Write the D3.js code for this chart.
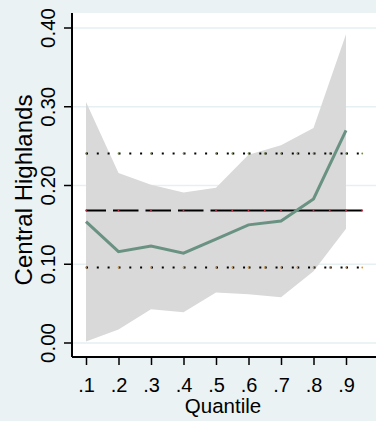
<!DOCTYPE html>
<html>
<head>
<meta charset="utf-8">
<script src="https://cdn.jsdelivr.net/npm/d3@7"></script>
<style>
body { margin: 0; background: #eaf2f3; }
svg { display: block; font-family: "Liberation Sans", Arial, sans-serif; }
</style>
</head>
<body>
<div id="chart"></div>
<script>
// quantile regression estimates
var quantiles = [0.1, 0.2, 0.3, 0.4, 0.5, 0.6, 0.7, 0.8, 0.9];
var qrEst  = [0.154, 0.116, 0.123, 0.114, 0.132, 0.150, 0.155, 0.183, 0.270];
var qrLow  = [0.002, 0.017, 0.043, 0.039, 0.064, 0.062, 0.058, 0.091, 0.145];
var qrHigh = [0.306, 0.216, 0.201, 0.191, 0.197, 0.239, 0.251, 0.273, 0.392];

// OLS estimate and its confidence bounds (constant over quantiles)
var olsX = [0.1, 0.2, 0.3, 0.4, 0.5, 0.55, 0.6, 0.65, 0.7, 0.75, 0.8, 0.85, 0.9, 0.95];
var olsEst = 0.169;
var olsLow = 0.097;
var olsHigh = 0.241;

var yTicks = [0, 0.1, 0.2, 0.3, 0.4];
var xTicks = quantiles;
var yTitle = "Central Highlands";
var xTitle = "Quantile";

var W = 376, H = 421;
var plot = {left: 72, top: 13, right: 376, bottom: 357};

var x = d3.scaleLinear().domain([0.1, 0.9]).range([86, 346]);
var y = d3.scaleLinear().domain([0, 0.4]).range([343, 28]);

var svg = d3.select("#chart").append("svg")
    .attr("width", W)
    .attr("height", H);

svg.append("rect")
    .attr("width", W).attr("height", H)
    .attr("fill", "#eaf2f3");

// plot region
svg.append("rect")
    .attr("x", plot.left).attr("y", plot.top)
    .attr("width", plot.right - plot.left)
    .attr("height", plot.bottom - plot.top)
    .attr("fill", "#ffffff");

// grid
svg.append("g").selectAll("line").data(yTicks).enter()
    .append("line")
    .attr("x1", plot.left).attr("x2", plot.right)
    .attr("y1", function(d) { return y(d); })
    .attr("y2", function(d) { return y(d); })
    .style("stroke", "#e6eff1")
    .style("stroke-width", 1.5);

// confidence band
var area = d3.area()
    .x(function(d, i) { return x(quantiles[i]); })
    .y0(function(d, i) { return y(qrLow[i]); })
    .y1(function(d, i) { return y(qrHigh[i]); });
svg.append("path")
    .datum(quantiles)
    .attr("d", area)
    .style("fill", "#d9d9d9")
    .style("stroke", "none");

// OLS lines, drawn segment by segment so the dash pattern restarts
function olsLine(val, dash, width, dotColor) {
    var g = svg.append("g");
    var segs = d3.pairs(olsX);
    g.selectAll("line").data(segs).enter()
        .append("line")
        .attr("x1", function(d) { return x(d[0]); })
        .attr("x2", function(d) { return x(d[1]); })
        .attr("y1", Math.round(y(val)) + 0.5).attr("y2", Math.round(y(val)) + 0.5)
        .style("stroke", "#000")
        .style("stroke-width", width)
        .style("stroke-dasharray", dash);
    g.selectAll("circle").data(olsX).enter()
        .append("circle")
        .attr("cx", function(d) { return x(d); })
        .attr("cy", Math.round(y(val)) + 0.5)
        .attr("r", 0.9)
        .style("fill", dotColor);
}
olsLine(olsHigh, "2,8.8", 2, "#6b8f3a");
olsLine(olsEst, "20,7", 2, "#c0384b");
olsLine(olsLow, "2,8.8", 2, "#e0902a");

// QR estimate
var line = d3.line()
    .x(function(d, i) { return x(quantiles[i]); })
    .y(function(d) { return y(d); });
svg.append("path")
    .datum(qrEst)
    .attr("d", line)
    .style("fill", "none")
    .style("stroke", "#6a9282")
    .style("stroke-width", 3);

// axes
var yAxis = d3.axisLeft(y).tickValues(yTicks).tickFormat(d3.format(".2f")).tickSize(8).tickPadding(0);
var yAxisG = svg.append("g")
    .attr("transform", "translate(" + plot.left + ",0)")
    .call(yAxis);
yAxisG.select(".domain").remove();
yAxisG.selectAll("line").style("stroke", "#000").style("stroke-width", 1.5);
yAxisG.selectAll(".tick").attr("transform", null);
yAxisG.selectAll(".tick line")
    .attr("y1", function(d) { return y(d); })
    .attr("y2", function(d) { return y(d); });
yAxisG.selectAll(".tick text")
    .attr("x", 0).attr("y", 0).attr("dy", null)
    .attr("transform", function(d) { return "translate(" + (55 - plot.left) + "," + y(d) + ") rotate(-90)"; })
    .style("text-anchor", "middle")
    .style("font-size", "20.5px")
    .style("fill", "#000")
    .style("font-family", "'Liberation Sans', Arial, sans-serif");

var xAxis = d3.axisBottom(x).tickValues(xTicks)
    .tickFormat(function(d) { return d3.format(".1f")(d).replace(/^0/, ""); })
    .tickSize(8).tickPadding(0);
var xAxisG = svg.append("g")
    .attr("transform", "translate(0," + plot.bottom + ")")
    .call(xAxis);
xAxisG.select(".domain").remove();
xAxisG.selectAll("line").style("stroke", "#000").style("stroke-width", 1.5);
xAxisG.selectAll("text")
    .attr("y", 35).attr("dy", null)
    .style("font-size", "20px")
    .style("fill", "#000")
    .style("font-family", "'Liberation Sans', Arial, sans-serif");

// axis lines
svg.append("line")
    .attr("x1", plot.left).attr("x2", plot.left)
    .attr("y1", plot.top).attr("y2", plot.bottom)
    .style("stroke", "#000").style("stroke-width", 2);
svg.append("line")
    .attr("x1", plot.left).attr("x2", plot.right)
    .attr("y1", plot.bottom).attr("y2", plot.bottom)
    .style("stroke", "#000").style("stroke-width", 2);

// titles
svg.append("text")
    .attr("transform", "translate(32,190) rotate(-90)")
    .style("text-anchor", "middle")
    .style("font-size", "24px")
    .text(yTitle);
svg.append("text")
    .attr("x", 223).attr("y", 413)
    .style("text-anchor", "middle")
    .style("font-size", "20.5px")
    .text(xTitle);
</script>
</body>
</html>
